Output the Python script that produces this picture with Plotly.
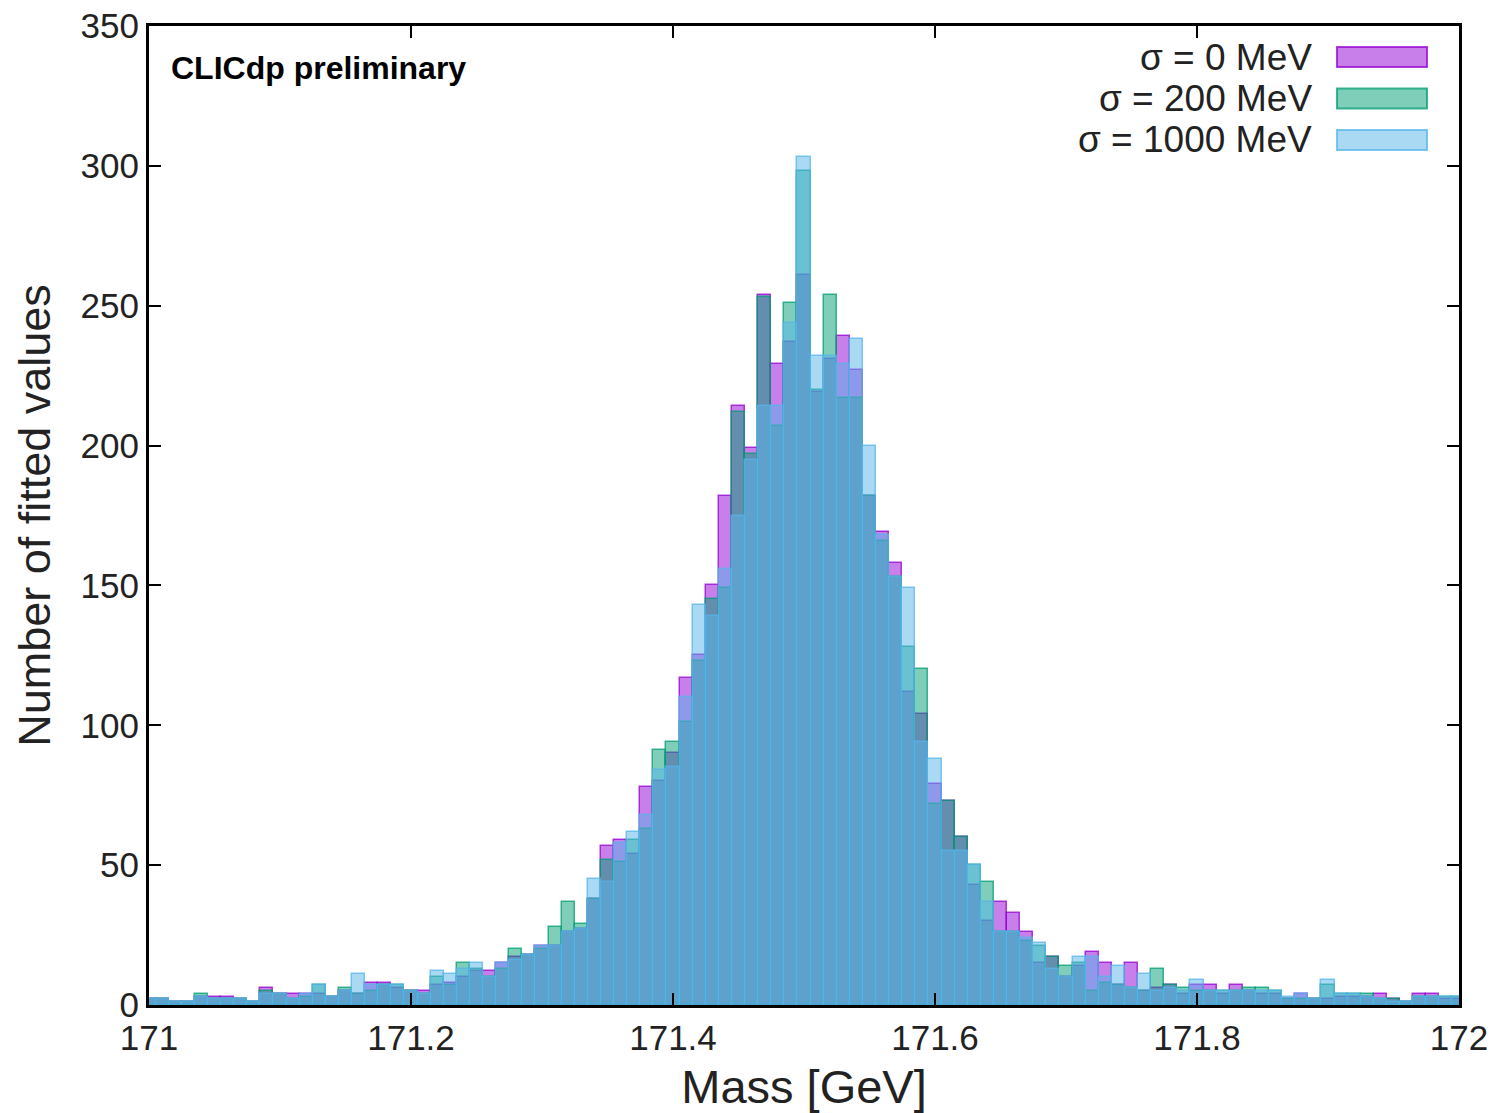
import plotly.graph_objects as go

# Bin centres (GeV), bin width 0.01 GeV
mass_bins = [round(171.0 + 0.01 * k, 2) for k in range(101)]

sigma0 = [2, 2, 1, 1, 3, 3, 3, 2, 1, 6,
          4, 4, 4, 4, 3, 5, 4, 8, 8, 6,
          5, 5, 7, 8, 10, 12, 12, 15, 17, 18,
          21, 21, 26, 27, 38, 57, 59, 54, 78, 80,
          90, 117, 125, 150, 182, 214, 199, 254, 229, 237,
          261, 219, 231, 239, 227, 182, 169, 158, 112, 104,
          79, 73, 60, 43, 30, 37, 33, 26, 15, 17,
          10, 14, 19, 15, 7, 15, 5, 6, 7, 4,
          7, 7, 4, 7, 5, 4, 4, 2, 4, 2,
          2, 3, 3, 3, 4, 2, 1, 4, 4, 2, 2]

sigma200 = [2, 2, 1, 1, 4, 2, 2, 2, 1, 5,
            4, 2, 3, 7, 3, 6, 4, 5, 7, 7,
            5, 4, 10, 7, 15, 13, 10, 13, 20, 18,
            20, 28, 37, 29, 38, 52, 51, 59, 63, 91,
            94, 101, 123, 145, 149, 212, 197, 253, 207, 251,
            298, 220, 254, 217, 217, 182, 166, 153, 128, 120,
            72, 73, 60, 50, 44, 26, 26, 23, 21, 17,
            14, 15, 5, 8, 7, 6, 5, 13, 7, 6,
            5, 5, 5, 5, 6, 6, 5, 2, 2, 2,
            7, 4, 4, 4, 2, 2, 1, 3, 3, 3, 3]

sigma1000 = [2, 2, 1, 1, 3, 2, 2, 2, 1, 4,
             4, 2, 4, 7, 3, 5, 11, 7, 7, 7,
             5, 4, 12, 11, 13, 15, 10, 15, 16, 18,
             21, 21, 26, 27, 45, 44, 58, 62, 68, 84,
             85, 110, 143, 139, 156, 175, 195, 214, 214, 244,
             303, 232, 232, 229, 238, 200, 168, 153, 149, 94,
             88, 55, 55, 50, 37, 26, 26, 24, 22, 13,
             10, 17, 17, 10, 14, 6, 11, 5, 6, 5,
             9, 5, 5, 5, 5, 5, 5, 3, 4, 2,
             9, 4, 4, 3, 2, 1, 1, 3, 3, 3, 3]

series_names = ["σ = 0 MeV", "σ = 200 MeV", "σ = 1000 MeV"]
series_values = [sigma0, sigma200, sigma1000]
series_rgb = [(148, 0, 211), (0, 158, 115), (86, 180, 233)]

x_ticks = [171, 171.2, 171.4, 171.6, 171.8, 172]
x_tick_text = ["171", "171.2", "171.4", "171.6", "171.8", "172"]
y_ticks = [0, 50, 100, 150, 200, 250, 300, 350]

FONT = "Liberation Sans, Arial, sans-serif"

fig = go.Figure()
for name, vals, (r, g, b) in zip(series_names, series_values, series_rgb):
    fig.add_trace(go.Bar(
        x=mass_bins, y=vals, name=name, width=0.01,
        marker=dict(color=f"rgba({r},{g},{b},0.5)",
                    line=dict(color=f"rgba({r},{g},{b},0.75)", width=1.5)),
        showlegend=False,
    ))

# Custom legend (text on the left, swatch on the right)
L, R, T, B = 149, 39, 26, 108
W, H = 1498, 1113
pw, ph = W - L - R, H - T - B
def px2paper_x(px):
    return (px - L) / pw
def px2paper_y(py):
    return (H - B - py) / ph

shapes = []
annotations = []
for i, (name, (r, g, b)) in enumerate(zip(series_names, series_rgb)):
    cy = 57 + i * 41.5
    shapes.append(dict(
        type="rect", xref="paper", yref="paper",
        x0=px2paper_x(1337), x1=px2paper_x(1427),
        y0=px2paper_y(cy + 10), y1=px2paper_y(cy - 10),
        fillcolor=f"rgba({r},{g},{b},0.5)",
        line=dict(color=f"rgba({r},{g},{b},0.75)", width=2),
    ))
    annotations.append(dict(
        text=name, xref="paper", yref="paper",
        x=px2paper_x(1314), y=px2paper_y(cy),
        xanchor="right", yanchor="middle", showarrow=False,
        font=dict(family=FONT, size=37, color="#222222"),
    ))

annotations.append(dict(
    text="<b>CLICdp preliminary</b>", xref="paper", yref="paper",
    x=px2paper_x(169), y=px2paper_y(68),
    xanchor="left", yanchor="middle", showarrow=False,
    font=dict(family=FONT, size=32, color="#000000"),
))

fig.update_layout(
    width=W, height=H,
    margin=dict(l=L, r=R, t=T, b=B, autoexpand=False),
    paper_bgcolor="white", plot_bgcolor="white",
    barmode="overlay", bargap=0,
    shapes=shapes, annotations=annotations,
    font=dict(family=FONT, color="#222222"),
)
fig.update_xaxes(
    range=[171, 172], tickvals=x_ticks, ticktext=x_tick_text,
    showline=True, linecolor="black", linewidth=3, mirror="ticks",
    ticks="inside", ticklen=12, tickwidth=2, tickcolor="black",
    showgrid=False, zeroline=False,
    tickfont=dict(family=FONT, size=35, color="#222222"),
    title=dict(text="Mass [GeV]", font=dict(family=FONT, size=47, color="#222222"), standoff=20),
)
fig.update_yaxes(
    range=[0, 350], tickvals=y_ticks,
    showline=True, linecolor="black", linewidth=3, mirror="ticks",
    ticks="inside", ticklen=12, tickwidth=2, tickcolor="black",
    showgrid=False, zeroline=False,
    tickfont=dict(family=FONT, size=35, color="#222222"),
    title=dict(text="Number of fitted values", font=dict(family=FONT, size=45, color="#222222"), standoff=16),
)

fig.write_html("out.html")
